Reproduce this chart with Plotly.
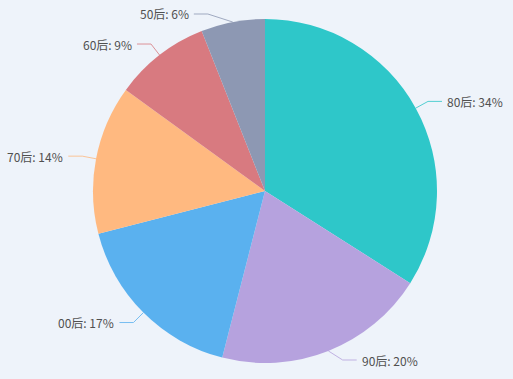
import math
import plotly.graph_objects as go

labels = ["80后", "90后", "00后", "70后", "60后", "50后"]
values = [34, 20, 17, 14, 9, 6]
colors = ["#2EC7C9", "#B6A2DE", "#5AB1EF", "#FFB980", "#D87A80", "#8D98B3"]

W, H = 513, 379
CX, CY, R = 265, 191, 172
L1, L2 = 14, 14
BG = "#EEF3FA"

fig = go.Figure(go.Pie(
    labels=labels, values=values, sort=False, direction="clockwise", rotation=0,
    marker=dict(colors=colors, line=dict(width=0)), textinfo="none", showlegend=False,
    domain=dict(x=[(CX - R) / W, (CX + R) / W], y=[(H - CY - R) / H, (H - CY + R) / H]),
))

total = sum(values)
cum = 0
shapes, annos = [], []
for lab, v, c in zip(labels, values, colors):
    mid = (cum + v / 2) / total * 2 * math.pi
    cum += v
    s, co = math.sin(mid), math.cos(mid)
    x0, y0 = CX + R * s, CY - R * co
    rb = R + L1
    ex, ey = CX + rb * s, CY - rb * co
    ey2 = min(max(ey, 14), 360)
    if ey2 != ey:
        dy = ey2 - CY
        ex = CX + math.copysign(math.sqrt(max(rb * rb - dy * dy, 0)), s)
        ey = ey2
    d = 1 if s >= 0 else -1
    x2 = ex + d * L2
    def px(x):
        return x / W
    def py(y):
        return 1 - y / H
    shapes.append(dict(type="path", xref="paper", yref="paper",
                       path=f"M{px(x0)},{py(y0)} L{px(ex)},{py(ey)} L{px(x2)},{py(ey)}",
                       line=dict(color=c, width=1), opacity=0.8))
    pct = round(v / total * 100)
    annos.append(dict(x=px(x2 + d * 3), y=py(ey), xref="paper", yref="paper",
                      text=f"{lab}: {pct}%", showarrow=False,
                      xanchor="left" if d > 0 else "right", yanchor="middle",
                      font=dict(size=12, color="#505050", family="Noto Sans CJK SC")))

fig.update_layout(width=W, height=H, margin=dict(l=0, r=0, t=0, b=0),
                  paper_bgcolor=BG, plot_bgcolor=BG, shapes=shapes, annotations=annos)
fig.write_html("out.html", config={"displayModeBar": False},
               post_script="document.body.style.margin='0';document.body.style.background='%s';" % BG)
